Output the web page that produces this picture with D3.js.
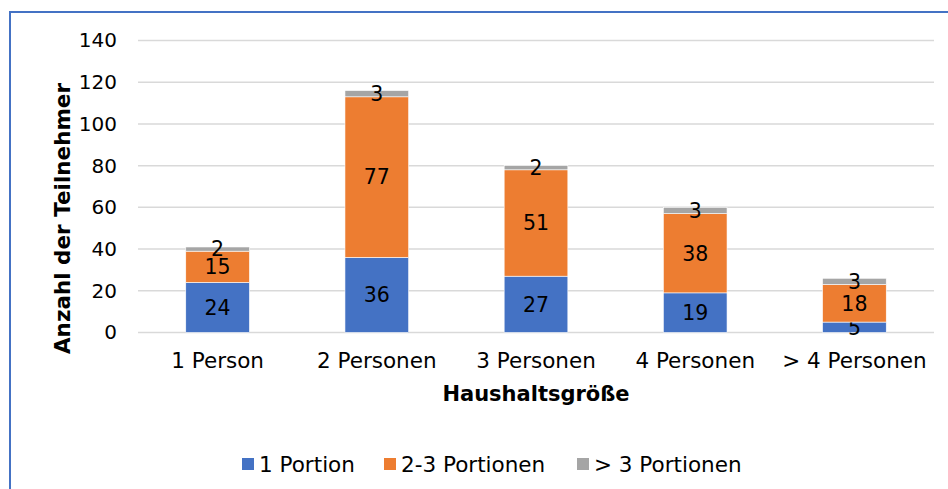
<!DOCTYPE html>
<html>
<head>
<meta charset="utf-8">
<script src="https://cdn.jsdelivr.net/npm/d3@7"></script>
<style>
  body { margin: 0; background: #fff; }
  text { font-family: "DejaVu Sans", Verdana, sans-serif; fill: #000; }
</style>
</head>
<body>
<div class="chart"></div>
<script>
// chart data
const categories = ['1 Person', '2 Personen', '3 Personen', '4 Personen', '> 4 Personen']
const seriesNames = ['1 Portion', '2-3 Portionen', '> 3 Portionen']
const onePortion = [24, 36, 27, 19, 5]
const twoThreePortions = [15, 77, 51, 38, 18]
const moreThanThree = [2, 3, 2, 3, 3]
const yTicks = [0, 20, 40, 60, 80, 100, 120, 140]

const palette = ['#4472C4', '#ED7D31', '#A5A5A5']

const width = 948, height = 489
const margin = {top: 40.5, right: 14, bottom: 156.5, left: 138}

const svg = d3.select('.chart')
    .append('svg')
    .attr('width', width)
    .attr('height', height)

// chart frame
svg.append('rect')
    .attr('x', 10).attr('y', 12)
    .attr('width', width + 10).attr('height', height + 10)
    .attr('fill', 'none')
    .attr('stroke', '#4472C4')
    .attr('stroke-width', 2)

const x = d3.scaleBand()
    .domain(categories)
    .range([margin.left, width - margin.right])
    .paddingInner(0.6)
    .paddingOuter(0.3)

const y = d3.scaleLinear()
    .domain([0, 140])
    .range([height - margin.bottom, margin.top])

// gridlines
svg.append('g')
    .selectAll('line')
    .data(yTicks)
    .enter()
    .append('line')
    .attr('x1', margin.left)
    .attr('x2', width - margin.right)
    .attr('y1', d => y(d))
    .attr('y2', d => y(d))
    .attr('stroke', '#D9D9D9')
    .attr('stroke-width', 1.5)

// y axis labels
const yAxis = svg.append('g')
    .attr('transform', `translate(${margin.left - 21},0)`)
    .call(d3.axisLeft(y).tickValues(yTicks).tickSize(0).tickPadding(0))
yAxis.select('.domain').remove()
yAxis.selectAll('text')
    .style('font-family', '"DejaVu Sans", Verdana, sans-serif')
    .style('font-size', '20px')
    .attr('fill', '#000')

// x axis labels
const xAxis = svg.append('g')
    .attr('transform', `translate(0,${height - margin.bottom})`)
    .call(d3.axisBottom(x).tickSize(0).tickPadding(20))
xAxis.select('.domain').remove()
xAxis.selectAll('text')
    .style('font-family', '"DejaVu Sans", Verdana, sans-serif')
    .style('font-size', '21.5px')
    .attr('fill', '#000')

// stacked bars
const rows = categories.map((c, i) => ({
    category: c,
    s0: onePortion[i],
    s1: twoThreePortions[i],
    s2: moreThanThree[i]
}))
const stack = d3.stack().keys(['s0', 's1', 's2'])
const layers = stack(rows)

const groups = svg.append('g')
    .selectAll('g')
    .data(layers)
    .enter()
    .append('g')
    .attr('fill', (_d, i) => palette[i])

groups.selectAll('rect')
    .data(d => d)
    .enter()
    .append('rect')
    .attr('x', d => x(d.data.category))
    .attr('y', d => y(d[1]))
    .attr('width', x.bandwidth())
    .attr('height', d => y(d[0]) - y(d[1]))
    .attr('stroke', '#fff')
    .attr('stroke-width', 0.6)

// data labels
groups.selectAll('text')
    .data(d => d.map(p => ({p, key: d.key})))
    .enter()
    .append('text')
    .attr('x', d => x(d.p.data.category) + x.bandwidth() / 2)
    .attr('y', d => y((d.p[0] + d.p[1]) / 2))
    .attr('dy', '0.36em')
    .attr('text-anchor', 'middle')
    .style('font-size', '20.5px')
    .text(d => d.p.data[d.key])

// axis titles
svg.append('text')
    .attr('transform', `translate(70,${(82 + 355) / 2}) rotate(-90)`)
    .attr('text-anchor', 'middle')
    .style('font-size', '21.5px')
    .style('font-weight', 'bold')
    .text('Anzahl der Teilnehmer')

svg.append('text')
    .attr('x', 536)
    .attr('y', 401)
    .attr('text-anchor', 'middle')
    .style('font-size', '21px')
    .style('font-weight', 'bold')
    .text('Haushaltsgröße')

// legend
const legendX = [242, 384, 577]
const legend = svg.append('g')
    .selectAll('g')
    .data(seriesNames)
    .enter()
    .append('g')
    .attr('transform', (_d, i) => `translate(${legendX[i]},458)`)

legend.append('rect')
    .attr('width', 12)
    .attr('height', 12)
    .attr('fill', (_d, i) => palette[i])

legend.append('text')
    .attr('x', 17)
    .attr('y', 6)
    .attr('dy', '0.36em')
    .style('font-size', '21.5px')
    .text(d => d)
</script>
</body>
</html>
